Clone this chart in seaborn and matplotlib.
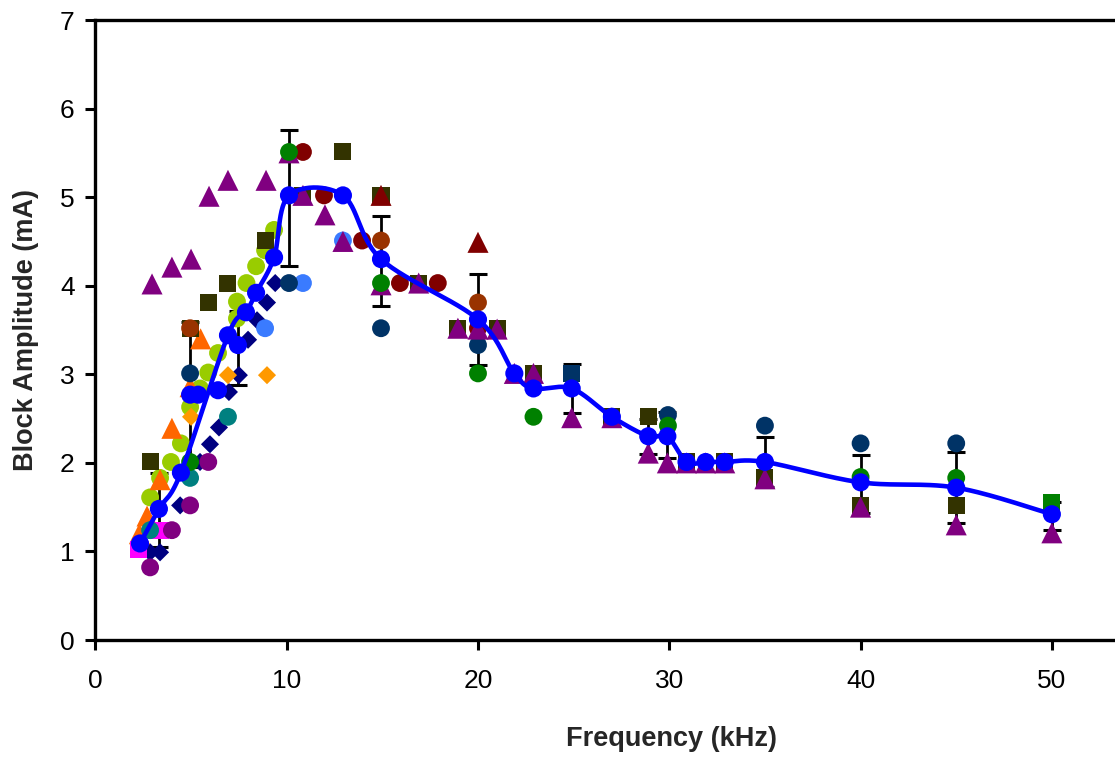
import numpy as np
import matplotlib
matplotlib.use("Agg")
import matplotlib.pyplot as plt
import seaborn as sns

# ---------------- data ----------------
mean_x = [2.33, 3.32, 4.47, 6.93, 7.87, 8.40, 9.34, 10.12, 12.94, 14.93, 20.0, 21.9,
          22.9, 24.9, 27.0, 28.9, 29.9, 30.9, 31.9, 32.9, 35.0, 40.0, 45.0, 50.0]
mean_y = [1.09, 1.48, 1.89, 3.44, 3.70, 3.92, 4.32, 5.02, 5.02, 4.30, 3.62, 3.01,
          2.84, 2.84, 2.52, 2.30, 2.30, 2.01, 2.01, 2.01, 2.01, 1.78, 1.72, 1.42]

extra_mean_x = [4.95, 5.37, 6.41, 7.45]
extra_mean_y = [2.77, 2.77, 2.82, 3.33]

err_x = [3.32, 4.95, 7.45, 10.12, 14.93, 20.0, 24.9, 28.9, 29.9, 35.0, 40.0, 45.0, 50.0]
err_y = [1.47, 2.77, 3.30, 4.99, 4.28, 3.62, 2.84, 2.30, 2.31, 2.01, 1.76, 1.72, 1.40]
err_v = [0.42, 0.82, 0.42, 0.77, 0.51, 0.51, 0.28, 0.20, 0.26, 0.28, 0.33, 0.40, 0.16]

ygreen_x = [2.86, 3.38, 3.95, 4.47, 4.95, 5.47, 5.90, 6.41, 7.40, 7.40, 7.90, 8.40, 8.87, 9.34]
ygreen_y = [1.61, 1.83, 2.01, 2.22, 2.63, 2.84, 3.02, 3.24, 3.63, 3.82, 4.03, 4.22, 4.40, 4.63]

ndiam_x = [2.86, 3.38, 4.43, 5.47, 5.99, 6.46, 6.98, 7.50, 7.98, 8.45, 8.97, 9.40]
ndiam_y = [0.99, 0.99, 1.52, 2.01, 2.21, 2.40, 2.80, 2.99, 3.39, 3.61, 3.81, 4.03]

odiam_x = [5.00, 6.93, 8.97]
odiam_y = [2.52, 2.99, 2.99]

otri_x = [2.30, 2.70, 3.38, 4.00, 4.95, 5.50]
otri_y = [1.20, 1.40, 1.81, 2.39, 2.86, 3.40]

magsq_x = [2.25, 3.38]
magsq_y = [1.02, 1.24]

teal_x = [2.86, 4.95, 6.93]
teal_y = [1.24, 1.83, 2.52]

pcirc_x = [2.86, 4.00, 4.95, 5.90]
pcirc_y = [0.82, 1.24, 1.52, 2.01]

lblue_x = [8.87, 10.85, 12.94]
lblue_y = [3.52, 4.03, 4.51]

navy_x = [4.95, 10.12, 14.93, 20.0, 29.93, 35.0, 40.0, 45.0]
navy_y = [3.01, 4.03, 3.52, 3.33, 2.54, 2.42, 2.22, 2.22]

olive_x = [2.90, 4.95, 5.90, 6.93, 8.87, 10.85, 12.94, 14.93, 16.90, 18.95, 21.0,
           22.9, 27.0, 28.9, 30.9, 32.9, 35.0, 40.0, 45.0]
olive_y = [2.01, 3.52, 3.81, 4.03, 4.51, 5.02, 5.51, 5.02, 4.03, 3.52, 3.52,
           3.01, 2.52, 2.52, 2.01, 2.01, 1.83, 1.52, 1.52]

dred_x = [10.85, 11.95, 13.94, 15.92, 17.90, 20.0]
dred_y = [5.51, 5.02, 4.51, 4.03, 4.03, 3.52]

brown_x = [4.95, 14.93, 20.0]
brown_y = [3.52, 4.51, 3.81]

dredtri_x = [14.93, 20.0]
dredtri_y = [5.02, 4.49]

ptri_x = [2.96, 4.00, 5.00, 5.94, 6.93, 8.92, 10.12, 10.85, 12.00, 12.94, 14.93, 16.90,
          18.95, 20.0, 21.0, 21.9, 22.9, 24.9, 27.0, 28.9, 29.9, 30.9, 31.9, 32.9,
          35.0, 40.0, 45.0, 50.0]
ptri_y = [4.02, 4.21, 4.30, 5.01, 5.19, 5.19, 5.50, 5.02, 4.80, 4.50, 4.01, 4.03,
          3.52, 3.51, 3.51, 3.01, 3.01, 2.51, 2.51, 2.11, 2.00, 2.00, 2.00, 2.00,
          1.82, 1.50, 1.30, 1.21]

green_x = [4.95, 10.12, 14.93, 20.0, 22.9, 29.93, 40.0, 45.0]
green_y = [2.01, 5.51, 4.03, 3.01, 2.52, 2.42, 1.84, 1.83]

greensq_x = [50.0]
greensq_y = [1.55]

navysq_x = [24.9]
navysq_y = [3.01]

x_ticks = [0, 10, 20, 30, 40, 50]
y_ticks = [0, 1, 2, 3, 4, 5, 6, 7]
x_label = "Frequency (kHz)"
y_label = "Block Amplitude (mA)"

# ---------------- styling ----------------
sns.set_style("white")
plt.rcParams["font.family"] = ["Liberation Sans", "DejaVu Sans"]

W, H = 1115, 759
fig = plt.figure(figsize=(W / 100, H / 100), dpi=100)
left_px, right_px, top_px, bot_px = 95.4, 1115, 20, 640
ax = fig.add_axes([left_px / W, (H - bot_px) / H, (right_px - left_px) / W, (bot_px - top_px) / H])
XMAX = 53.3
ax.set_xlim(0, XMAX)
ax.set_ylim(0, 7)

S_CIRC, S_TRI, S_SQ, S_DIA = 165, 230, 150, 85

series = [
    (ygreen_x, ygreen_y, "#99CC00", "o", S_CIRC),
    (ndiam_x, ndiam_y, "#000080", "D", S_DIA),
    (odiam_x, odiam_y, "#FF9900", "D", S_DIA),
    (otri_x, otri_y, "#FF6600", "^", S_TRI),
    (magsq_x, magsq_y, "#FF00FF", "s", S_SQ),
    (teal_x, teal_y, "#008080", "o", S_CIRC),
    (pcirc_x, pcirc_y, "#800080", "o", S_CIRC),
    (lblue_x, lblue_y, "#3A7BFF", "o", S_CIRC),
    (navy_x, navy_y, "#003366", "o", S_CIRC),
    (olive_x, olive_y, "#333300", "s", S_SQ),
    (dred_x, dred_y, "#800000", "o", S_CIRC),
    (brown_x, brown_y, "#993300", "o", S_CIRC),
    (dredtri_x, dredtri_y, "#800000", "^", S_TRI),
    (ptri_x, ptri_y, "#800080", "^", S_TRI),
    (green_x, green_y, "#008000", "o", S_CIRC),
    (greensq_x, greensq_y, "#008000", "s", S_SQ),
    (navysq_x, navysq_y, "#003366", "s", S_SQ),
]

# error bars (behind markers)
ax.errorbar(err_x, err_y, yerr=err_v, fmt="none", ecolor="black", elinewidth=2.0,
            capsize=6.5, capthick=2.2, zorder=1.5)

for xs, ys, col, mk, s in series:
    sns.scatterplot(x=xs, y=ys, color=col, marker=mk, s=s, linewidth=0,
                    edgecolor="none", ax=ax, zorder=2, legend=False)

# smoothed mean line (Catmull-Rom Bezier through the mean points)
sx = (right_px - left_px) / XMAX
sy = (bot_px - top_px) / 7.0


def smooth_curve(xs, ys, f=1.0 / 6.0, n=30):
    P = np.column_stack([np.asarray(xs) * sx, np.asarray(ys) * sy])
    out = [P[0]]
    for i in range(len(P) - 1):
        p0 = P[i - 1] if i > 0 else P[i]
        p1, p2 = P[i], P[i + 1]
        p3 = P[i + 2] if i + 2 < len(P) else P[i + 1]
        c1 = p1 + (p2 - p0) * f
        c2 = p2 - (p3 - p1) * f
        t = np.linspace(0, 1, n)[1:, None]
        seg = (1 - t) ** 3 * p1 + 3 * (1 - t) ** 2 * t * c1 + 3 * (1 - t) * t ** 2 * c2 + t ** 3 * p2
        out.extend(seg)
    out = np.array(out)
    return out[:, 0] / sx, out[:, 1] / sy


cx, cy = smooth_curve(mean_x, mean_y)
ax.plot(cx, cy, color="#0000FF", lw=3.3, zorder=3, solid_capstyle="round")
sns.scatterplot(x=mean_x, y=mean_y, color="#0000FF", marker="o", s=170, linewidth=0,
                edgecolor="none", ax=ax, zorder=4, legend=False)
sns.scatterplot(x=extra_mean_x, y=extra_mean_y, color="#0000FF", marker="o", s=170,
                linewidth=0, edgecolor="none", ax=ax, zorder=4, legend=False)

# axes styling
ax.set_xticks(x_ticks)
ax.set_yticks(y_ticks)
ax.tick_params(axis="both", which="both", direction="out", length=7, width=2.2,
               color="black", labelsize=19, labelcolor="black")
ax.tick_params(axis="x", pad=14, bottom=True, top=False)
ax.tick_params(axis="y", pad=8, left=True, right=False)
for side in ["left", "bottom", "top"]:
    ax.spines[side].set_visible(True)
    ax.spines[side].set_color("black")
    ax.spines[side].set_linewidth(2.4)
ax.spines["right"].set_visible(False)
ax.grid(False)

ax.set_xlabel(x_label, fontsize=19.5, fontweight="bold")
ax.set_ylabel(y_label, fontsize=19.5, fontweight="bold")
ax.xaxis.set_label_coords((672 - left_px) / (right_px - left_px), (bot_px - 726) / (bot_px - top_px))
ax.yaxis.set_label_coords((39 - left_px) / (right_px - left_px), 0.5)

fig.savefig("out.png", dpi=100)
